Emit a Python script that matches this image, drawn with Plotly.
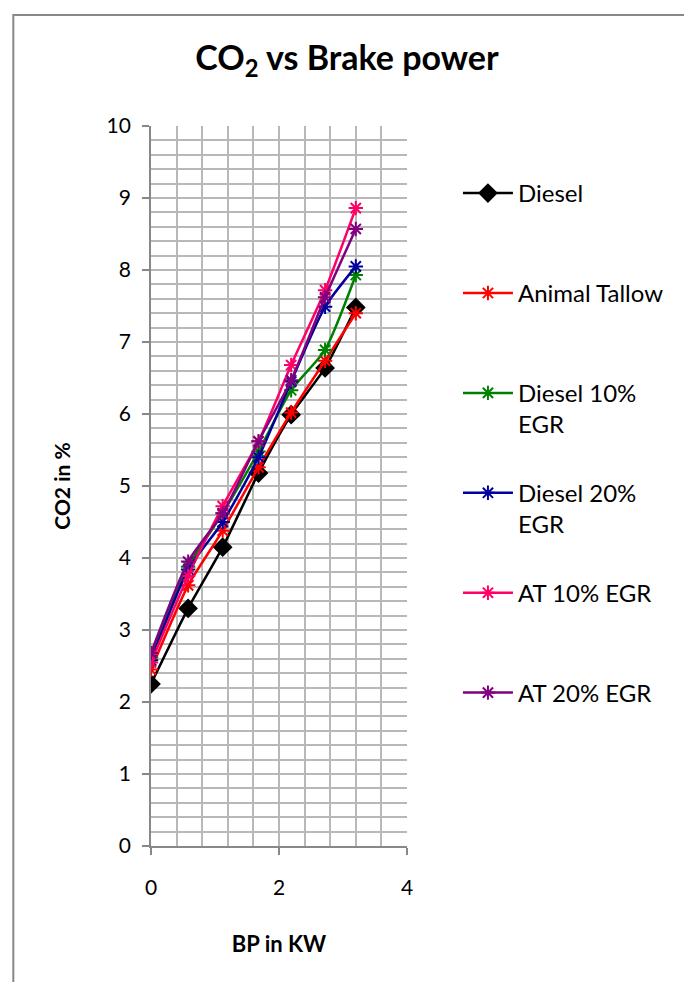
import plotly.graph_objects as go

bp = [0, 0.58, 1.12, 1.68, 2.19, 2.72, 3.2]

diesel = [2.25, 3.30, 4.15, 5.18, 5.99, 6.64, 7.48]
animal_tallow = [2.45, 3.62, 4.38, 5.26, 6.02, 6.74, 7.40]
diesel_10 = [2.62, 3.88, 4.62, 5.48, 6.33, 6.89, 7.93]
diesel_20 = [2.58, 3.84, 4.50, 5.40, 6.45, 7.49, 8.05]
at_10 = [2.55, 3.75, 4.72, 5.62, 6.68, 7.72, 8.86]
at_20 = [2.68, 3.95, 4.62, 5.62, 6.47, 7.62, 8.57]

series = [
    ("Diesel<br>&nbsp;", diesel, "#000000", "diamond"),
    ("Animal Tallow<br>&nbsp;", animal_tallow, "#FF0000", "asterisk-open"),
    ("Diesel 10%<br>EGR", diesel_10, "#008000", "asterisk-open"),
    ("Diesel 20%<br>EGR", diesel_20, "#00009C", "asterisk-open"),
    ("AT 10% EGR<br>&nbsp;", at_10, "#FF0066", "asterisk-open"),
    ("AT 20% EGR<br>&nbsp;", at_20, "#800080", "asterisk-open"),
]

FONT = "Lato"

fig = go.Figure()
for i, (name, ys, col, sym) in enumerate(series):
    fig.add_trace(go.Scatter(
        x=bp, y=ys, name=name, mode="lines+markers",
        legendgroup=f"g{i}",
        line=dict(color=col, width=2.5, shape="spline", smoothing=0.6),
        marker=dict(symbol=sym, size=13 if sym == "diamond" else 12,
                    color=col, line=dict(color=col, width=2)),
    ))

grid_col = "#B8B8B8"
fig.update_layout(
    width=684, height=982,
    margin=dict(l=151, r=277, t=126, b=136),
    paper_bgcolor="white", plot_bgcolor="white",
    font=dict(family=FONT, size=21, color="#000000"),
    title=dict(text="<b>CO<sub>2</sub> vs Brake power</b>",
               x=347 / 684, xanchor="center", y=1 - 58 / 982, yanchor="middle",
               font=dict(family=FONT, size=34, color="#000000")),
    legend=dict(x=1.199, xanchor="left", y=0.9375, yanchor="top",
                tracegroupgap=34.5, font=dict(family=FONT, size=24),
                valign="top",
                bgcolor="rgba(0,0,0,0)", itemwidth=50),
    showlegend=True,
)
fig.update_xaxes(
    range=[0, 4], dtick=2, tick0=0,
    showgrid=True, gridcolor=grid_col, gridwidth=1.7,
    minor=dict(dtick=0.4, showgrid=True, gridcolor=grid_col, gridwidth=1.7),
    showline=True, linecolor="#888888", linewidth=1.7,
    ticks="outside", ticklen=7, tickcolor="#888888", tickwidth=1.7,
    zeroline=False, ticklabelstandoff=15,
    title=dict(text="<b>BP in KW</b>", font=dict(family=FONT, size=22), standoff=39),
    tickfont=dict(family=FONT, size=21),
)
fig.update_yaxes(
    range=[0, 10], dtick=1, tick0=0,
    showgrid=True, gridcolor=grid_col, gridwidth=1.7,
    minor=dict(dtick=0.2, showgrid=True, gridcolor=grid_col, gridwidth=1.7),
    showline=True, linecolor="#888888", linewidth=1.7,
    ticks="outside", ticklen=7, tickcolor="#888888", tickwidth=1.7,
    zeroline=False, ticklabelstandoff=7,
    title=dict(text="<b>CO2 in %</b>", font=dict(family=FONT, size=21), standoff=30),
    tickfont=dict(family=FONT, size=21),
)
# outer chart border
fig.add_shape(type="rect", xref="paper", yref="paper",
              x0=(13 - 151) / 256.6, x1=(700 - 151) / 256.6,
              y0=(846 - 1000) / 720, y1=(846 - 15) / 720,
              line=dict(color="#888888", width=2), fillcolor="rgba(0,0,0,0)",
              layer="below")

fig.write_html("out.html")
